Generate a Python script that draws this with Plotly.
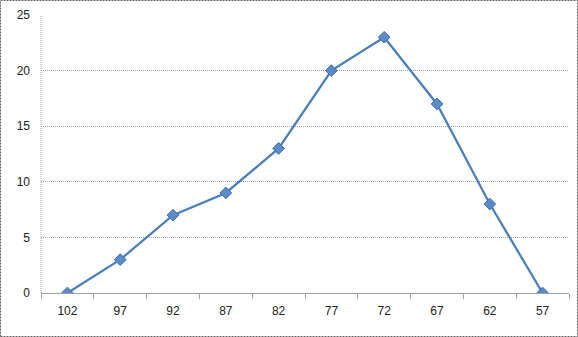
import plotly.graph_objects as go

categories = ["102", "97", "92", "87", "82", "77", "72", "67", "62", "57"]
values = [0, 3, 7, 9, 13, 20, 23, 17, 8, 0]
y_ticks = [0, 5, 10, 15, 20, 25]

fig = go.Figure()
fig.add_trace(go.Scatter(
    x=categories, y=values, mode="lines+markers",
    line=dict(color="#4A7EBB", width=2.25),
    marker=dict(symbol="diamond", size=9, color="#5B8CC8",
                line=dict(color="#3A6DAA", width=1)),
    showlegend=False,
))

fig.update_layout(
    width=578, height=337,
    margin=dict(l=41, r=9, t=15, b=44),
    paper_bgcolor="white", plot_bgcolor="white",
    font=dict(family="Liberation Sans, Arial, sans-serif", size=12, color="#222"),
    xaxis=dict(
        type="category", range=[-0.5, 9.5],
        showgrid=False, showline=True, linecolor="#A0A0A0", linewidth=1,
        ticks="outside", tickson="boundaries", ticklen=5, tickcolor="#A0A0A0",
        ticklabelstandoff=7,
        tickfont=dict(size=12), fixedrange=True,
    ),
    yaxis=dict(
        range=[0, 25], tickvals=y_ticks,
        showgrid=True, gridcolor="#A0A0A0", griddash="1px,1px", gridwidth=1,
        showline=False, zeroline=False,
        ticks="", ticklen=0, ticklabelstandoff=10,
        tickfont=dict(size=12), fixedrange=True,
    ),
    shapes=[
        dict(type="rect", xref="paper", yref="paper",
             x0=-40.5/528, x1=1+8.5/528, y0=-43.5/278, y1=1+14.5/278,
             line=dict(color="#606060", width=1, dash="2px,1px")),
        dict(type="line", xref="paper", yref="paper",
             x0=0, x1=0, y0=0, y1=1,
             line=dict(color="#A0A0A0", width=1, dash="1px,1px")),
    ],
)

fig.write_html("out.html")
